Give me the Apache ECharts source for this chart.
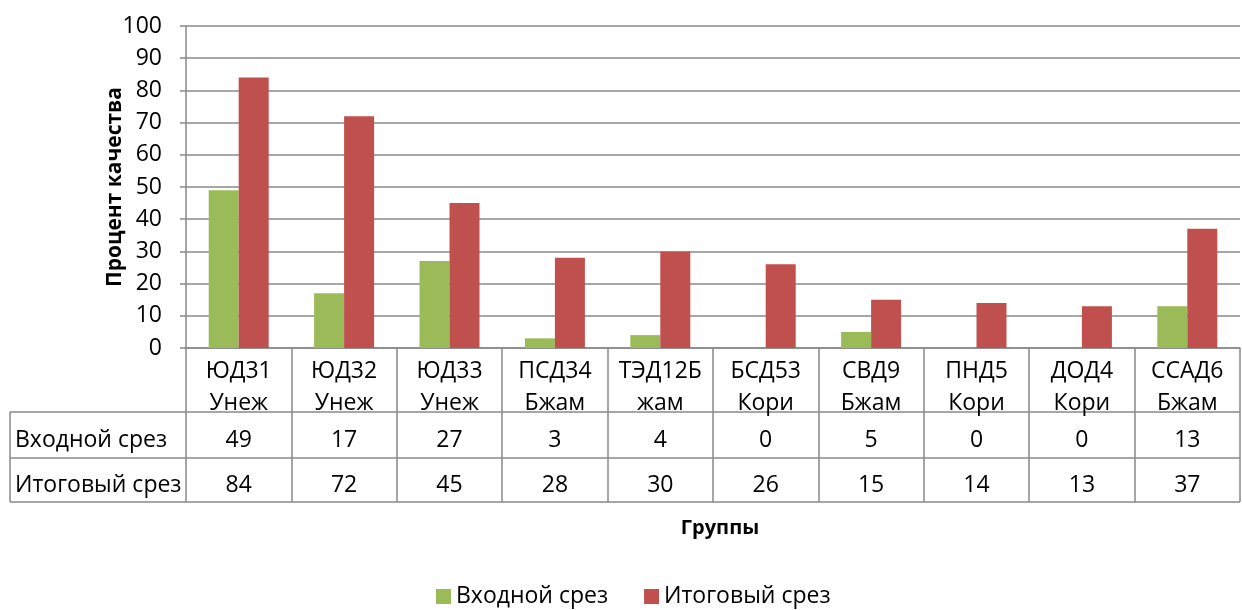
<!DOCTYPE html>
<html>
<head>
<meta charset="utf-8">
<script src="https://cdn.jsdelivr.net/npm/echarts@6/dist/echarts.min.js"></script>
<style>
  html, body { margin: 0; padding: 0; background: #fff; }
  #chart { width: 1242px; height: 610px; }
</style>
</head>
<body>
<div id="chart"></div>
<script>
// данные диаграммы
const groups = ["ЮД31\nУнеж", "ЮД32\nУнеж", "ЮД33\nУнеж", "ПСД34\nБжам", "ТЭД12Б\nжам",
  "БСД53\nКори", "СВД9\nБжам", "ПНД5\nКори", "ДОД4\nКори", "ССАД6\nБжам"];
const inputCut = [49, 17, 27, 3, 4, 0, 5, 0, 0, 13];
const finalCut = [84, 72, 45, 28, 30, 26, 15, 14, 13, 37];
const seriesNames = ["Входной срез", "Итоговый срез"];
const yTicks = { min: 0, max: 100, interval: 10 };

const font = '"Open Sans", "Noto Sans", sans-serif';
const fs = 23;
const lineColor = "#898989";
const chart = echarts.init(document.getElementById("chart"));

const L = 186, R = 1240, TOP = 26, AX = 348;

let option = {
  animation: false,
  textStyle: { fontFamily: font },
  grid: { left: L, right: 1242 - R, top: TOP, bottom: 610 - AX },
  legend: {
    top: 580,
    left: 431,
    itemWidth: 15,
    itemHeight: 15,
    itemGap: 36,
    icon: "rect",
    textStyle: { fontSize: 23, color: "#000", fontFamily: font },
    data: seriesNames
  },
  xAxis: [
    {
      type: "category",
      data: groups,
      axisLine: { lineStyle: { color: lineColor, width: 1.5 } },
      axisTick: { show: true, length: 154, interval: 0, lineStyle: { color: lineColor, width: 1.5 } },
      axisLabel: { interval: 0, fontSize: fs, color: "#000", lineHeight: 32, margin: 7 }
    },
    {
      type: "category",
      data: groups,
      position: "bottom",
      offset: 92,
      axisLine: { show: false },
      axisTick: { show: false },
      axisLabel: {
        interval: 0, fontSize: fs, color: "#000", margin: 0, verticalAlign: "middle",
        formatter: (v, i) => String(inputCut[i])
      }
    },
    {
      type: "category",
      data: groups,
      position: "bottom",
      offset: 137,
      axisLine: { show: false },
      axisTick: { show: false },
      axisLabel: {
        interval: 0, fontSize: fs, color: "#000", margin: 0, verticalAlign: "middle",
        formatter: (v, i) => String(finalCut[i])
      }
    }
  ],
  yAxis: {
    type: "value",
    min: yTicks.min,
    max: yTicks.max,
    interval: yTicks.interval,
    name: "Процент качества",
    nameLocation: "middle",
    nameGap: 60,
    nameMoveOverlap: false,
    nameTextStyle: { fontSize: 21, fontWeight: "bold", color: "#000" },
    axisLine: { show: true, lineStyle: { color: lineColor, width: 1.5 } },
    axisTick: { show: true, length: 6, lineStyle: { color: lineColor, width: 1.5 } },
    axisLabel: { fontSize: fs, color: "#000", margin: 24 },
    splitLine: { lineStyle: { color: lineColor, width: 1.5 } }
  },
  series: [
    {
      name: seriesNames[0],
      type: "bar",
      data: inputCut,
      barWidth: 30,
      barGap: "0%",
      itemStyle: { color: "#9BBB59" }
    },
    {
      name: seriesNames[1],
      type: "bar",
      data: finalCut,
      barWidth: 30,
      itemStyle: { color: "#C0504D" }
    }
  ],
  graphic: [
    { type: "line", shape: { x1: 10, y1: 412, x2: R, y2: 412 }, style: { stroke: lineColor, lineWidth: 1.5 } },
    { type: "line", shape: { x1: 10, y1: 458, x2: R, y2: 458 }, style: { stroke: lineColor, lineWidth: 1.5 } },
    { type: "line", shape: { x1: 10, y1: 502, x2: R, y2: 502 }, style: { stroke: lineColor, lineWidth: 1.5 } },
    { type: "line", shape: { x1: 10, y1: 412, x2: 10, y2: 502 }, style: { stroke: lineColor, lineWidth: 1.5 } },
    { type: "text", x: 15, y: 440, style: { text: seriesNames[0], font: fs + "px " + font, fill: "#000", verticalAlign: "middle" } },
    { type: "text", x: 15, y: 485, style: { text: seriesNames[1], font: fs + "px " + font, fill: "#000", verticalAlign: "middle" } },
    { type: "text", x: 720, y: 528, style: { text: "Группы", font: "bold 20px " + font, fill: "#000", align: "center", verticalAlign: "middle" } }
  ]
};

chart.setOption(option);
</script>
</body>
</html>
